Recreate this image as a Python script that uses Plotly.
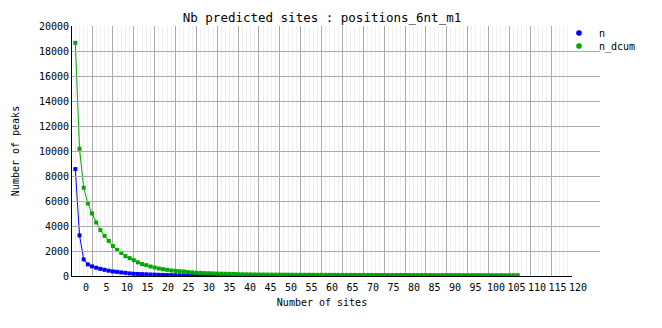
import plotly.graph_objects as go

# ---- data ----
n_values = [8550, 3250, 1330, 930, 770, 660, 570, 495, 420, 360,
            330, 285, 250, 205, 175, 165, 150, 135, 120, 110,
            95, 85, 75, 68, 60, 55, 48, 44, 40, 36,
            33, 30, 27, 25, 22, 20, 18, 17, 15, 14,
            12, 13, 10, 11, 9, 8, 9, 7, 8, 6,
            7, 5, 6, 5, 4, 5, 4, 3, 4, 3,
            3, 2, 3, 2, 2, 3, 2, 1, 2, 1,
            2, 1, 1, 2, 1, 1, 0, 1, 1, 0,
            1, 0, 1, 1, 0, 0, 1, 0, 1, 0,
            0, 1, 0, 0, 1, 0, 0, 0, 1, 0,
            0, 1, 0, 0, 1]
n_dcum_values = [18650, 10180, 7060, 5800, 5000, 4280, 3670, 3210, 2810, 2390,
                 2090, 1850, 1590, 1430, 1270, 1090, 950, 870, 760, 680,
                 600, 545, 495, 440, 410, 385, 355, 310, 285, 260,
                 250, 230, 220, 205, 195, 185, 180, 172, 165, 145,
                 138, 132, 127, 122, 118, 115, 112, 110, 108, 106,
                 104, 102, 100, 99, 98, 97, 96, 95, 94, 93,
                 92, 91, 90, 89, 88, 88, 87, 86, 85, 85,
                 84, 83, 82, 82, 81, 80, 80, 79, 78, 78,
                 77, 76, 76, 75, 75, 74, 74, 73, 73, 72,
                 72, 71, 71, 70, 70, 69, 69, 68, 68, 67,
                 67, 66, 66, 65, 65, 64, 64]
n_sites = list(range(len(n_values)))
n_dcum_sites = list(range(len(n_dcum_values)))
x_tick_values = list(range(0, 121, 5))
y_tick_values = list(range(0, 20001, 2000))

series_names = ["n", "n_dcum"]
series_colors = ["#0000ff", "#00a800"]

MONO = "DejaVu Sans Mono"

fig = go.Figure()
fig.add_trace(go.Scatter(x=n_sites, y=n_values, mode="lines+markers",
                         line=dict(color=series_colors[0], width=1),
                         marker=dict(symbol="square", size=4, color=series_colors[0]),
                         showlegend=False))
fig.add_trace(go.Scatter(x=n_dcum_sites, y=n_dcum_values, mode="lines+markers",
                         line=dict(color=series_colors[1], width=1),
                         marker=dict(symbol="square", size=4, color=series_colors[1]),
                         showlegend=False))
# legend entries (marker only), one legend box per entry
for name, col, lg in zip(series_names, series_colors, ["legend", "legend2"]):
    fig.add_trace(go.Scatter(x=[None], y=[None], mode="markers", name=name,
                             legend=lg,
                             marker=dict(symbol="octagon", size=6, color=col)))
# helper trace for the tick-label axis
fig.add_trace(go.Scatter(x=[None], y=[None], xaxis="x2", yaxis="y",
                         showlegend=False, hoverinfo="skip"))

W_DATA = 500.0
W_PLOT = 528.0
H_PLOT = 250.0
LEG_X = (559 - 72) / W_PLOT

fig.update_layout(
    width=662, height=328, autosize=False,
    margin=dict(l=72, r=662 - 72 - int(W_PLOT), t=26, b=52, pad=0),
    paper_bgcolor="white", plot_bgcolor="rgba(0,0,0,0)",
    font=dict(family=MONO, size=10, color="black"),
    title=dict(text="Nb predicted sites : positions_6nt_m1",
               font=dict(family=MONO, size=12.5, color="black"),
               x=(322 - 72) / W_PLOT, xref="paper", xanchor="center",
               y=1 - 18 / 328, yref="container", yanchor="middle"),
    xaxis=dict(domain=[0, W_DATA / W_PLOT], range=[-0.8, 119.02],
               tickmode="linear", tick0=4, dtick=5, showticklabels=False,
               ticks="", showgrid=True, gridcolor="#aaaaaa", gridwidth=1,
               minor=dict(tick0=0, dtick=1, showgrid=True, gridcolor="#efefef", gridwidth=1, ticks=""),
               showline=True, linecolor="black", linewidth=1, zeroline=False,
               title=dict(text="Number of sites", font=dict(family=MONO, size=10), standoff=22)),
    xaxis2=dict(anchor="y", domain=[0, 1],
                range=[-14 / 4.1, -14 / 4.1 + W_PLOT / 4.1],
                tickmode="array", tickvals=x_tick_values,
                ticktext=[str(v) for v in x_tick_values], tickangle=0,
                showgrid=False, showline=False, zeroline=False, ticks="",
                tickfont=dict(family=MONO, size=10), ticklabelstandoff=4),
    yaxis=dict(range=[0, 20000], tickmode="array", tickvals=y_tick_values,
               ticktext=[str(v) for v in y_tick_values],
               showgrid=True, gridcolor="#aaaaaa", gridwidth=1,
               showline=True, linecolor="black", linewidth=1, zeroline=False,
               ticks="", tickfont=dict(family=MONO, size=10),
               title=dict(text="Number of peaks", font=dict(family=MONO, size=10), standoff=17)),
    legend=dict(x=LEG_X, y=1 - (33 - 26) / H_PLOT, xanchor="left", yanchor="middle",
                bgcolor="rgba(0,0,0,0)", font=dict(family=MONO, size=10),
                tracegroupgap=0, itemwidth=30),
    legend2=dict(x=LEG_X, y=1 - (46 - 26) / H_PLOT, xanchor="left", yanchor="middle",
                 bgcolor="rgba(0,0,0,0)", font=dict(family=MONO, size=10),
                 tracegroupgap=0, itemwidth=30),
)

fig.write_html("out.html")
